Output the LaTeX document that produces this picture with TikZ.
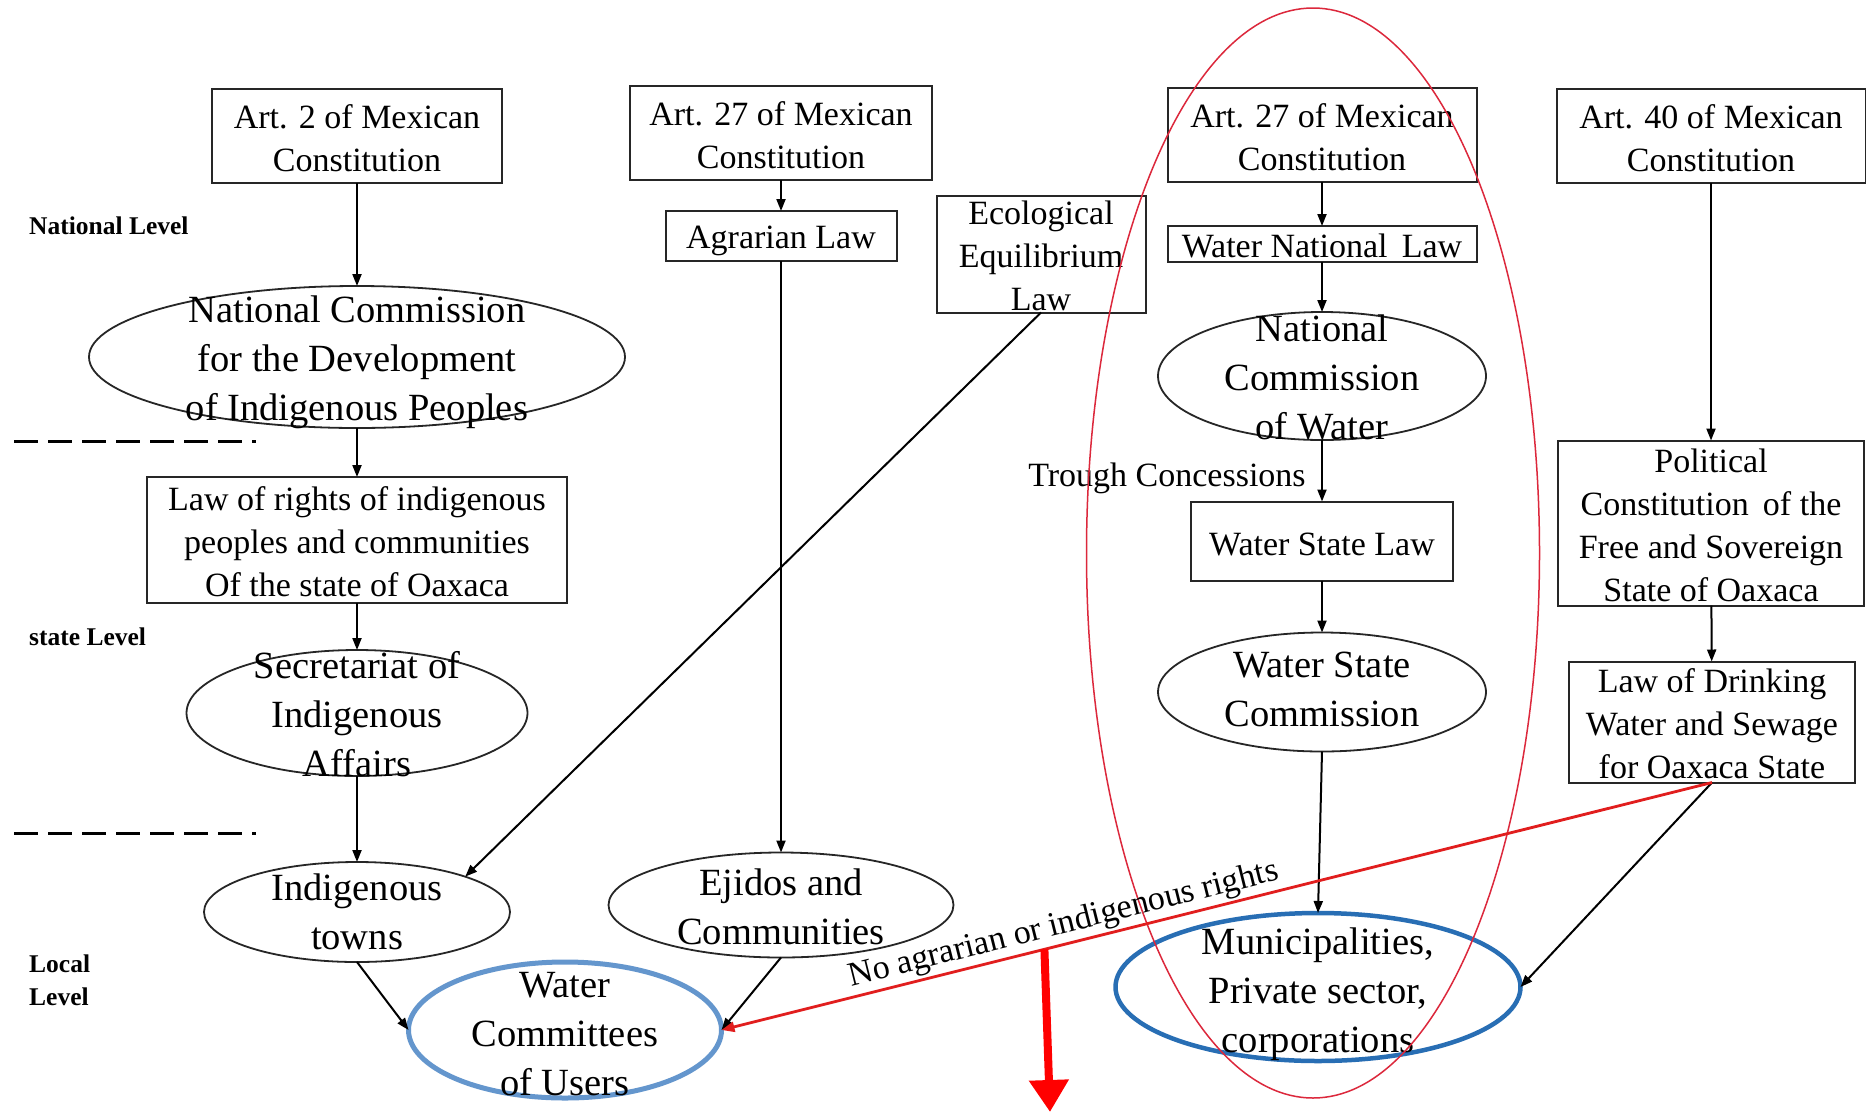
\documentclass[tikz,border=0pt]{standalone}
\usepackage{fontspec}
\setmainfont{Liberation Serif}
\usetikzlibrary{arrows.meta,shapes.geometric}
\definecolor{wcblue}{RGB}{100,150,205}
\definecolor{mublue}{RGB}{40,110,180}
\definecolor{ellred}{RGB}{220,40,60}
\definecolor{lnred}{RGB}{225,30,30}
\begin{document}
\begin{tikzpicture}[x=1pt,y=-1pt,
  bx/.style={draw=black!85, line width=2pt, rectangle, inner sep=0pt, outer sep=0pt},
  el/.style={draw=black!85, line width=1.8pt, ellipse, inner sep=0pt, outer sep=0pt},
  bt/.style={align=center, inner sep=0pt, font=\fontsize{34}{43}\selectfont},
  et/.style={align=center, inner sep=0pt, font=\fontsize{38.5}{49}\selectfont},
  arr/.style={line width=2pt, -{Triangle[length=12pt,width=9pt]}},
  lvl/.style={font=\bfseries\fontsize{25.5}{33}\selectfont, align=left, inner sep=0pt, anchor=west},
  dl/.style={line width=3pt, dash pattern=on 24pt off 10pt}
]
\fill[white] (0,0) rectangle (1866,1112);
\useasboundingbox (0,0) rectangle (1866,1112);

% level labels and separators
\node[lvl] (natl) at (29,226) {National Level};
\node[lvl] (statel) at (29,637) {state Level};
\node[lvl] (locall) at (29,980) {Local\\Level};
\coordinate (d1a) at (14,441); \coordinate (d1b) at (256,441);
\coordinate (d2a) at (14,833); \coordinate (d2b) at (256,833);
\draw[dl] (d1a) -- (d1b);
\draw[dl] (d2a) -- (d2b);

% column 1
\node[bx, minimum width=290pt, minimum height=94pt] (art2) at (357,136) {};
\node[bt] (art2t) at (357,138) {Art. 2 of Mexican\\Constitution};
\node[el, minimum width=536pt, minimum height=142pt] (ncip) at (357,357) {};
\node[et] (ncipt) at (357,362) {National Commission\\for the Development\\of Indigenous Peoples};
\node[bx, minimum width=420pt, minimum height=126pt] (lrights) at (357,540) {};
\node[bt] (lrightst) at (357,542) {Law of rights of indigenous\\peoples and communities\\Of the state of Oaxaca};
\node[el, minimum width=341pt, minimum height=126pt] (sec) at (357,713) {};
\node[et] (sect) at (357,714) {Secretariat of\\Indigenous\\Affairs};
\node[el, minimum width=306pt, minimum height=100pt] (itown) at (357,912) {};
\node[et] (itownt) at (357,912) {Indigenous\\towns};

% column 2
\node[bx, minimum width=302pt, minimum height=94pt] (art27a) at (781,133) {};
\node[bt] (art27at) at (781,135) {Art. 27 of Mexican\\Constitution};
\node[bx, minimum width=231pt, minimum height=50pt] (agr) at (781,236) {};
\node[bt] (agrt) at (781,241) {Agrarian Law};
\node[el, minimum width=345pt, minimum height=105pt] (ejidos) at (781,905) {};
\node[et] (ejidost) at (781,907) {Ejidos and\\Communities};
\node[bx, minimum width=209pt, minimum height=117pt] (eco) at (1041,254) {};
\node[bt] (ecot) at (1041,256) {Ecological\\Equilibrium\\Law};

% column 3
\node[bx, minimum width=309pt, minimum height=94pt] (art27b) at (1322,135) {};
\node[bt] (art27bt) at (1322,137) {Art. 27 of Mexican\\Constitution};
\node[bx, minimum width=309pt, minimum height=36pt] (wnl) at (1322,244) {};
\node[bt] (wnlt) at (1322,246) {Water National\, Law};
\node[el, minimum width=328pt, minimum height=128pt] (ncw) at (1322,376) {};
\node[et] (ncwt) at (1322,377) {National\\Commission\\of Water};
\node[bt] (trough) at (1167,478) {Trough Concessions};
\node[bx, minimum width=262pt, minimum height=79pt] (wsl) at (1322,541) {};
\node[bt] (wslt) at (1322,544) {Water State Law};
\node[el, minimum width=328pt, minimum height=119pt] (wsc) at (1322,692) {};
\node[et] (wsct) at (1322,689) {Water State\\Commission};

% column 4
\node[bx, minimum width=309pt, minimum height=94pt] (art40) at (1711,136) {};
\node[bt] (art40t) at (1711,138) {Art. 40 of Mexican\\Constitution};
\node[bx, minimum width=306pt, minimum height=165pt] (pol) at (1711,523) {};
\node[bt] (polt) at (1711,525) {Political\\Constitution\, of the\\Free and Sovereign\\State of Oaxaca};
\node[bx, minimum width=286pt, minimum height=121pt] (drink) at (1712,722) {};
\node[bt] (drinkt) at (1712,724) {Law of Drinking\\Water and Sewage\\for Oaxaca State};

% bottom targets
\node[draw=wcblue, line width=5pt, ellipse, inner sep=0pt, outer sep=0pt, minimum width=313pt, minimum height=136pt] (wc) at (565,1030) {};
\node[et] (wct) at (565,1034) {Water\\Committees\\of Users};
\node[draw=mublue, line width=4.5pt, ellipse, inner sep=0pt, outer sep=0pt, minimum width=405pt, minimum height=148pt] (muni) at (1318,987) {};
\node[et] (munit) at (1318,994) {Municipalities,\\Private sector,\\corporations};

% red focus ellipse
\node[draw=ellred, line width=1.5pt, ellipse, inner sep=0pt, minimum width=453pt, minimum height=1090pt] (focus) at (1313,553) {};

% connectors
\draw[arr] (art2) -- (ncip);
\draw[arr] (ncip) -- (lrights);
\draw[arr] (lrights) -- (sec);
\draw[arr] (sec) -- (itown);
\draw[arr] (art27a) -- (agr);
\draw[arr] (agr) -- (ejidos);
\draw[arr] (eco.south) -- (itown.north east);
\draw[arr] (itown.south) -- (wc.west);
\draw[arr] (ejidos.south) -- (wc.east);
\draw[arr] (art27b) -- (wnl);
\draw[arr] (wnl) -- (ncw);
\draw[arr] (ncw) -- (wsl);
\draw[arr] (wsl) -- (wsc);
\draw[arr] (wsc.south) -- (muni.north);
\draw[arr] (art40) -- (pol);
\draw[arr] (pol) -- (drink);
\draw[arr] (drink.south) -- (muni.east);

\draw[draw=lnred, line width=2.8pt, -{Triangle[length=13pt,width=10pt]}]
  (drink.south) -- node[pos=0.65, sloped, above, inner sep=2pt, font=\fontsize{34}{43}\selectfont] (lbl) {No agrarian or indigenous rights}
  coordinate[pos=0.674] (split) (wc.east);
\coordinate (bigend) at (1050,1112);
\draw[draw=red, line width=8pt, -{Triangle[length=32pt,width=38pt,fill=red]}] (split) -- (bigend);
\end{tikzpicture}
\end{document}
